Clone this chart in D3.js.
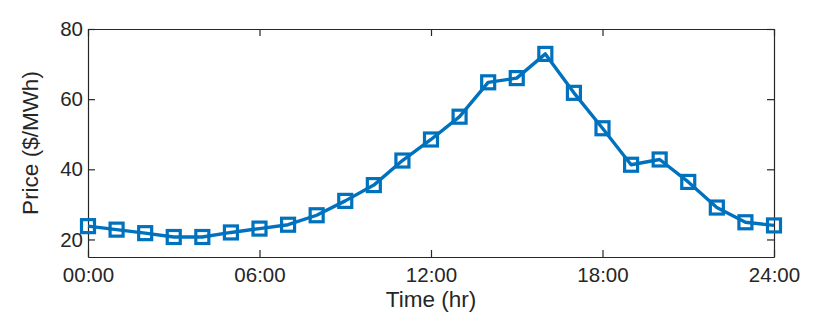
<!DOCTYPE html>
<html>
<head>
<meta charset="utf-8">
<script src="https://cdn.jsdelivr.net/npm/d3@7"></script>
<style>
  body { margin: 0; background: #fff; }
  text { font-family: "Liberation Sans", Arial, sans-serif; fill: #262626; }
</style>
</head>
<body>
<div id="chart"></div>
<script>
// hourly price data
var hours = [0, 1, 2, 3, 4, 5, 6, 7, 8, 9, 10, 11, 12, 13, 14, 15, 16, 17, 18, 19, 20, 21, 22, 23, 24];
var prices = [23.8, 22.8, 21.8, 20.7, 20.7, 22.0, 23.1, 24.2, 26.9, 31.0, 35.5, 42.5, 48.5, 55.0, 64.8, 66.0, 72.9, 61.8, 51.7, 41.3, 42.8, 36.4, 29.1, 24.9, 24.0];
var xTicks = [0, 6, 12, 18, 24];
var xTickLabels = ["00:00", "06:00", "12:00", "18:00", "24:00"];
var yTicks = [20, 40, 60, 80];

var margin = {top: 29, right: 56, bottom: 71, left: 88},
    width = 830 - margin.left - margin.right,
    height = 328 - margin.top - margin.bottom;

var svg = d3.select("#chart")
  .append("svg")
    .attr("width", 830)
    .attr("height", 328)
  .append("g")
    .attr("transform", "translate(" + margin.left + "," + margin.top + ")");

var x = d3.scaleLinear().domain([0, 24]).range([0, width]);
var y = d3.scaleLinear().domain([15, 80]).range([height, 0]);

var color = "#0072BD";

// bottom axis
var xAxis = svg.append("g")
    .attr("transform", "translate(0," + height + ")")
    .call(d3.axisBottom(x)
      .tickValues(xTicks)
      .tickFormat(function(d, i) { return xTickLabels[i]; })
      .tickSizeInner(-7).tickSizeOuter(0).tickPadding(10.5));

// top axis (ticks only)
var xAxisTop = svg.append("g")
    .call(d3.axisTop(x).tickValues(xTicks).tickFormat("").tickSizeInner(-7).tickSizeOuter(0));

// left axis
var yAxis = svg.append("g")
    .call(d3.axisLeft(y).tickValues(yTicks).tickSizeInner(-7).tickSizeOuter(0).tickPadding(5));

// right axis (ticks only)
var yAxisRight = svg.append("g")
    .attr("transform", "translate(" + width + ",0)")
    .call(d3.axisRight(y).tickValues(yTicks).tickFormat("").tickSizeInner(-7).tickSizeOuter(0));

[xAxis, xAxisTop, yAxis, yAxisRight].forEach(function(a) {
  a.selectAll(".domain").attr("stroke", "#262626").attr("stroke-width", 1.2);
  a.selectAll(".tick line").attr("stroke", "#262626").attr("stroke-width", 1.2);
  a.selectAll(".tick text").attr("fill", "#262626").style("font-size", "20.5px")
    .style("font-family", "'Liberation Sans', Arial, sans-serif");
});

// line
var line = d3.line()
    .x(function(d, i) { return x(hours[i]); })
    .y(function(d) { return y(d); });

svg.append("path")
    .datum(prices)
    .attr("fill", "none")
    .attr("stroke", color)
    .attr("stroke-width", 3.4)
    .attr("stroke-linejoin", "round")
    .attr("d", line);

// square markers
var ms = 13;
svg.selectAll("rect.marker")
    .data(prices)
    .enter()
    .append("rect")
      .attr("class", "marker")
      .attr("x", function(d, i) { return x(hours[i]) - ms / 2; })
      .attr("y", function(d) { return y(d) - ms / 2; })
      .attr("width", ms)
      .attr("height", ms)
      .attr("fill", "none")
      .attr("stroke", color)
      .attr("stroke-width", 3.2);

// axis labels
svg.append("text")
    .attr("text-anchor", "middle")
    .attr("x", width / 2)
    .attr("y", height + 50)
    .style("font-size", "22.5px")
    .text("Time (hr)");

svg.append("text")
    .attr("text-anchor", "middle")
    .attr("transform", "rotate(-90)")
    .attr("x", -height / 2)
    .attr("y", -50)
    .style("font-size", "22.5px")
    .text("Price ($/MWh)");
</script>
</body>
</html>
